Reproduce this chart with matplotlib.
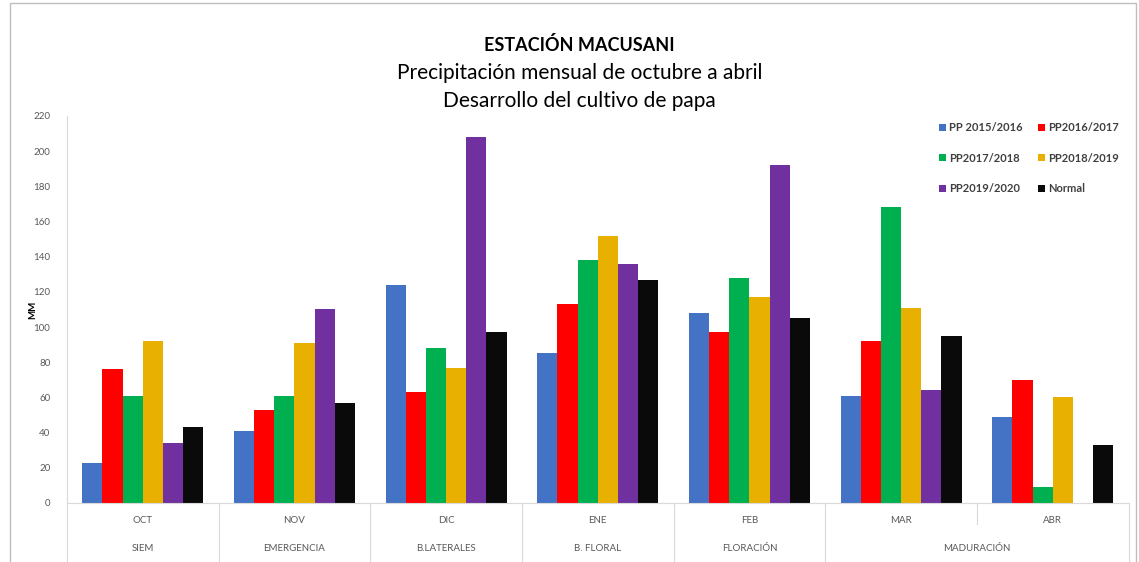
import numpy as np
import matplotlib
matplotlib.use("Agg")
import matplotlib.pyplot as plt
import matplotlib.transforms as mtransforms
from matplotlib.patches import Rectangle

plt.rcParams['font.family'] = ['Lato', 'DejaVu Sans']

months = ["OCT", "NOV", "DIC", "ENE", "FEB", "MAR", "ABR"]
phase_labels = ["SIEM", "EMERGENCIA", "B.LATERALES", "B. FLORAL", "FLORACIÓN", "MADURACIÓN"]
phase_spans = [(0, 1), (1, 2), (2, 3), (3, 4), (4, 5), (5, 7)]

series_names = ["PP 2015/2016", "PP2016/2017", "PP2017/2018", "PP2018/2019", "PP2019/2020", "Normal"]
pp_2015 = [23, 41, 124, 85, 108, 61, 49]
pp_2016 = [76, 53, 63, 113, 97, 92, 70]
pp_2017 = [61, 61, 88, 138, 128, 168, 9]
pp_2018 = [92, 91, 77, 152, 117, 111, 60]
pp_2019 = [34, 110, 208, 136, 192, 64, 0]
normal = [43, 57, 97, 127, 105, 95, 33]
series = [pp_2015, pp_2016, pp_2017, pp_2018, pp_2019, normal]
colors = ["#4472C4", "#FF0000", "#00B050", "#E8B000", "#7030A0", "#0A0A0A"]

fig = plt.figure(figsize=(11.39, 5.62), dpi=100)
ax = fig.add_axes([0.0588, 0.105, 0.932, 0.6886])

x = np.arange(len(months))
w = 0.133
bars = []
for k, (vals, name, c) in enumerate(zip(series, series_names, colors)):
    bars.append(ax.bar(x + (k - 2.5) * w, vals, width=w, color=c, label=name, zorder=2))

ax.set_xlim(-0.5, len(months) - 0.5)
ax.set_ylim(0, 220)
ax.set_yticks(range(0, 221, 20))
ax.tick_params(axis='y', length=0, labelsize=7, colors='#595959', pad=12)
ax.set_xticks([])
for s in ["top", "right"]:
    ax.spines[s].set_visible(False)
ax.spines["left"].set_color("#D9D9D9")
ax.spines["bottom"].set_color("#D9D9D9")
ax.set_ylabel("MM", fontsize=7, fontweight='bold')
ax.yaxis.set_label_coords(-0.028, 0.5)

trans = mtransforms.blended_transform_factory(ax.transData, ax.transAxes)
for i, m in enumerate(months):
    ax.text(i, -0.045, m, transform=trans, ha='center', va='center',
            fontsize=7, color='#595959')
for lab, (a, b) in zip(phase_labels, phase_spans):
    ax.text((a + b) / 2 - 0.5, -0.118, lab, transform=trans, ha='center', va='center',
            fontsize=7, color='#595959')
for i in range(len(months) + 1):
    bottom = -0.055 if i == 6 else -0.15
    ax.plot([i - 0.5, i - 0.5], [0, bottom], transform=trans, color='#D9D9D9',
            lw=0.8, clip_on=False)

# legend filled row by row: reorder for matplotlib's column-major fill
order = [0, 2, 4, 1, 3, 5]
leg = ax.legend([bars[i] for i in order], [series_names[i] for i in order],
                loc='upper left', bbox_to_anchor=(0.812, 1.01), ncol=2, frameon=False,
                fontsize=8, handlelength=0.6, handleheight=0.6, handletextpad=0.3,
                columnspacing=1.4, labelspacing=1.75)
for t in leg.get_texts():
    t.set_fontweight('bold')
    t.set_color('#404040')

fig.text(0.509, 0.92, "ESTACIÓN MACUSANI", ha='center', va='center', fontsize=13,
         fontweight='bold')
fig.text(0.509, 0.87, "Precipitación mensual de octubre a abril", ha='center',
         va='center', fontsize=15)
fig.text(0.509, 0.82, "Desarrollo del cultivo de papa", ha='center', va='center',
         fontsize=15)

fig.patches.append(Rectangle((0.009, -0.05), 0.988, 1.045, transform=fig.transFigure,
                             fill=False, edgecolor='#BFBFBF', lw=1))

fig.savefig("out.png", dpi=100)
